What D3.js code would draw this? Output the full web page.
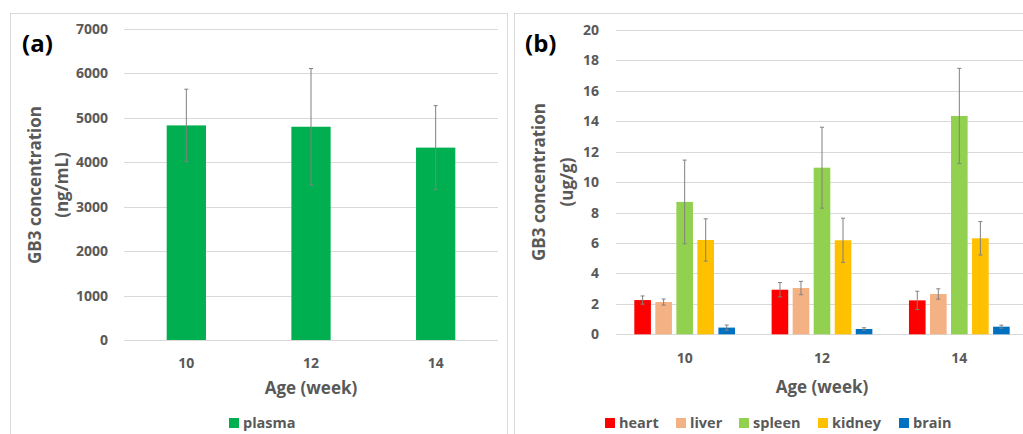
<!DOCTYPE html>
<html>
<head>
<meta charset="utf-8">
<script src="https://cdn.jsdelivr.net/npm/d3@7"></script>
<style>
  body { margin: 0; background: #fff; }
  svg text { font-family: "Open Sans", "Liberation Sans", sans-serif; font-weight: bold; fill: #595959; }
</style>
</head>
<body>
<svg id="chart" width="1023" height="434"></svg>
<script>
// data
var ages = ["10", "12", "14"];
var plasma = [4830, 4800, 4330];
var plasmaErr = [815, 1310, 945];

var organs = ["heart", "liver", "spleen", "kidney", "brain"];
var organColors = ["#ff0000", "#f4b183", "#92d050", "#ffc000", "#0070c0"];
var heart = [2.25, 2.93, 2.23];
var liver = [2.12, 3.04, 2.65];
var spleen = [8.7, 10.95, 14.35];
var kidney = [6.2, 6.18, 6.31];
var brain = [0.44, 0.35, 0.5];
var heartErr = [0.27, 0.47, 0.6];
var liverErr = [0.2, 0.44, 0.34];
var spleenErr = [2.75, 2.66, 3.13];
var kidneyErr = [1.39, 1.45, 1.1];
var brainErr = [0.17, 0.08, 0.1];

var ticksA = [0, 1000, 2000, 3000, 4000, 5000, 6000, 7000];
var ticksB = [0, 2, 4, 6, 8, 10, 12, 14, 16, 18, 20];

var svg = d3.select("#chart");
var gridColor = "#d9d9d9";
var errColor = "#808080";

// panel frames
svg.append("rect").attr("x", 10.5).attr("y", 13.5).attr("width", 497).attr("height", 440)
	.attr("fill", "none").attr("stroke", gridColor);
svg.append("rect").attr("x", 514.5).attr("y", 13.5).attr("width", 520).attr("height", 440)
	.attr("fill", "none").attr("stroke", gridColor);

// ---------- panel (a) ----------
var xa = d3.scaleBand().domain(ages).range([124, 498]);
var ya = d3.scaleLinear().domain([0, 7000]).range([340, 29]);
var ga = svg.append("g");

ga.selectAll("line.grid").data(ticksA).enter().append("line")
	.attr("x1", 124).attr("x2", 498)
	.attr("y1", function(d) { return Math.round(ya(d)) + 0.5; })
	.attr("y2", function(d) { return Math.round(ya(d)) + 0.5; })
	.attr("stroke", gridColor).attr("stroke-width", 1.2);

var axA = ga.append("g").attr("transform", "translate(110,0)")
	.call(d3.axisLeft(ya).tickValues(ticksA).tickFormat(d3.format("d")).tickSize(0).tickPadding(2));
axA.select(".domain").remove();
axA.selectAll("text").style("font-size", "14px").attr("fill", "#595959");

var bwA = xa.bandwidth() * 0.315;
ga.selectAll("rect.bar").data(plasma).enter().append("rect")
	.attr("x", function(d, i) { return xa(ages[i]) + xa.bandwidth() / 2 - bwA / 2; })
	.attr("y", function(d) { return ya(d); })
	.attr("width", bwA)
	.attr("height", function(d) { return ya(0) - ya(d); })
	.attr("fill", "#00b050");

function errorBars(g, vals, errs, cx, y) {
	vals.forEach(function(v, i) {
		var x = cx(i);
		var top = y(v + errs[i]), bot = y(v - errs[i]);
		g.append("line").attr("x1", x).attr("x2", x).attr("y1", top).attr("y2", bot)
			.attr("stroke", errColor).attr("stroke-width", 1);
		g.append("line").attr("x1", x - 2).attr("x2", x + 2).attr("y1", top).attr("y2", top)
			.attr("stroke", errColor).attr("stroke-width", 1);
		g.append("line").attr("x1", x - 2).attr("x2", x + 2).attr("y1", bot).attr("y2", bot)
			.attr("stroke", errColor).attr("stroke-width", 1);
	});
}
errorBars(ga, plasma, plasmaErr, function(i) { return xa(ages[i]) + xa.bandwidth() / 2; }, ya);

ga.selectAll("text.xt").data(ages).enter().append("text")
	.attr("x", function(d) { return xa(d) + xa.bandwidth() / 2; })
	.attr("y", 368).attr("text-anchor", "middle").style("font-size", "14px")
	.text(function(d) { return d; });

ga.append("text").attr("x", 311).attr("y", 394).attr("text-anchor", "middle")
	.style("font-size", "17px").text("Age (week)");

ga.append("text").attr("transform", "translate(41,185) rotate(-90)").attr("text-anchor", "middle")
	.style("font-size", "17px").text("GB3 concentration");
ga.append("text").attr("transform", "translate(68,185) rotate(-90)").attr("text-anchor", "middle")
	.style("font-size", "17px").text("(ng/mL)");

ga.append("text").attr("x", 22).attr("y", 52).style("font-size", "24px").style("fill", "#000")
	.text("(a)");

ga.append("rect").attr("x", 229).attr("y", 418).attr("width", 10).attr("height", 10).attr("fill", "#00b050");
ga.append("text").attr("x", 243).attr("y", 428).style("font-size", "14.5px").text("plasma");

// ---------- panel (b) ----------
var series = [heart, liver, spleen, kidney, brain];
var seriesErr = [heartErr, liverErr, spleenErr, kidneyErr, brainErr];

var x0 = d3.scaleBand().domain(ages).range([616, 1028]);
var x1 = d3.scaleBand().domain(organs).range([18.3, x0.bandwidth() - 18.3]).paddingInner(0.21);
var yb = d3.scaleLinear().domain([0, 20]).range([334.3, 30]);
var gb = svg.append("g");

gb.selectAll("line.grid").data(ticksB).enter().append("line")
	.attr("x1", 616).attr("x2", 1023)
	.attr("y1", function(d) { return Math.round(yb(d)) + 0.5; })
	.attr("y2", function(d) { return Math.round(yb(d)) + 0.5; })
	.attr("stroke", gridColor).attr("stroke-width", 1.2);

var axB = gb.append("g").attr("transform", "translate(601,0)")
	.call(d3.axisLeft(yb).tickValues(ticksB).tickSize(0).tickPadding(2));
axB.select(".domain").remove();
axB.selectAll("text").style("font-size", "14px").attr("fill", "#595959");

organs.forEach(function(o, k) {
	gb.selectAll("rect.s" + k).data(series[k]).enter().append("rect")
		.attr("x", function(d, i) { return x0(ages[i]) + x1(o); })
		.attr("y", function(d) { return yb(d); })
		.attr("width", x1.bandwidth())
		.attr("height", function(d) { return yb(0) - yb(d); })
		.attr("fill", organColors[k]);
	errorBars(gb, series[k], seriesErr[k],
		function(i) { return x0(ages[i]) + x1(o) + x1.bandwidth() / 2; }, yb);
});

gb.selectAll("text.xt").data(ages).enter().append("text")
	.attr("x", function(d) { return x0(d) + x0.bandwidth() / 2; })
	.attr("y", 363).attr("text-anchor", "middle").style("font-size", "14px")
	.text(function(d) { return d; });

gb.append("text").attr("x", 822).attr("y", 393).attr("text-anchor", "middle")
	.style("font-size", "17px").text("Age (week)");

gb.append("text").attr("transform", "translate(545,182) rotate(-90)").attr("text-anchor", "middle")
	.style("font-size", "17px").text("GB3 concentration");
gb.append("text").attr("transform", "translate(573,182) rotate(-90)").attr("text-anchor", "middle")
	.style("font-size", "17px").text("(ug/g)");

gb.append("text").attr("x", 525).attr("y", 52).style("font-size", "24px").style("fill", "#000")
	.text("(b)");

var legX = [605, 676, 739, 818, 899];
organs.forEach(function(o, k) {
	gb.append("rect").attr("x", legX[k]).attr("y", 418).attr("width", 10).attr("height", 10)
		.attr("fill", organColors[k]);
	gb.append("text").attr("x", legX[k] + 14).attr("y", 428).style("font-size", "14.5px").text(o);
});
</script>
</body>
</html>
